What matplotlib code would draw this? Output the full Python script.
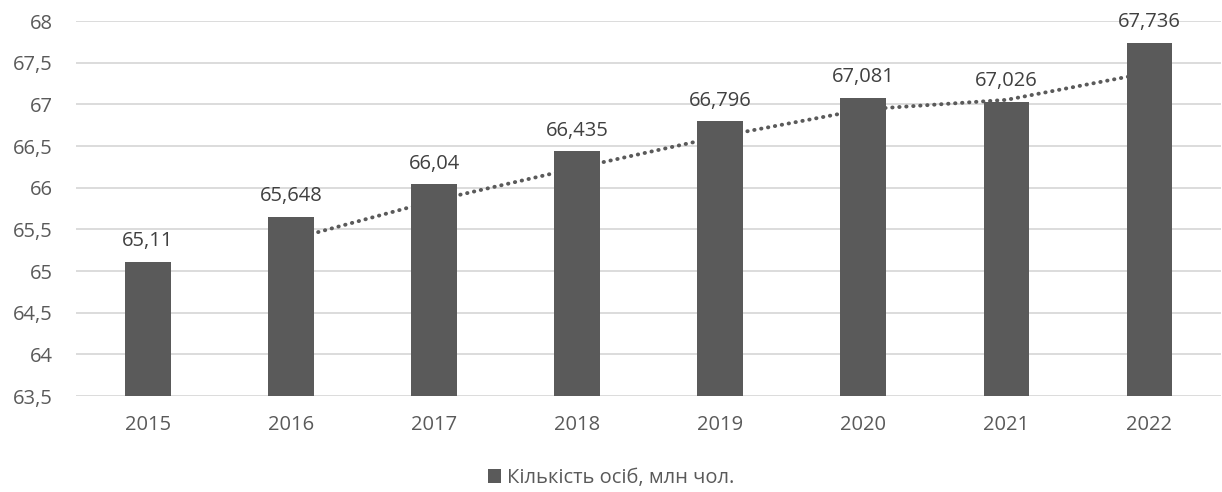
import numpy as np
import matplotlib.pyplot as plt

years = ["2015", "2016", "2017", "2018", "2019", "2020", "2021", "2022"]
persons = [65.11, 65.648, 66.04, 66.435, 66.796, 67.081, 67.026, 67.736]
value_labels = ["65,11", "65,648", "66,04", "66,435", "66,796", "67,081", "67,026", "67,736"]
# two-period moving average trend (as drawn by the spreadsheet), starts at 2016
trend = [65.379, 65.844, 66.238, 66.616, 66.939, 67.054, 67.381]
yticks = [63.5, 64, 64.5, 65, 65.5, 66, 66.5, 67, 67.5, 68]
ytick_labels = ["63,5", "64", "64,5", "65", "65,5", "66", "66,5", "67", "67,5", "68"]

plt.rcParams['font.family'] = ['Open Sans', 'DejaVu Sans']
grey = '#5a5a5a'

fig = plt.figure(figsize=(12.22, 4.92), dpi=100)
ax = fig.add_axes([0.0626, 0.1951, 0.9366, 0.7622])
x = np.arange(len(years))
ax.bar(x, np.array(persons) - 63.5, bottom=63.5, width=0.32, color=grey, zorder=2,
       label="Кількість осіб, млн чол.")
ax.plot(x[1:], trend, linestyle=(0, (0.1, 1.7)), color=grey, linewidth=2.8,
        dash_capstyle='round', zorder=3)
for xi, v, s in zip(x, persons, value_labels):
    ax.text(xi, v + 0.13, s, ha='center', va='bottom', fontsize=14.5, color='#404040')

ax.set_xlim(-0.5, len(years) - 0.5)
ax.set_ylim(63.5, 68)
ax.set_yticks(yticks)
ax.set_yticklabels(ytick_labels)
ax.set_xticks(x)
ax.set_xticklabels(years)
ax.tick_params(length=0, labelsize=14.5, labelcolor=grey)
ax.tick_params(axis='x', pad=14)
ax.tick_params(axis='y', pad=17)
ax.grid(axis='y', color='#d9d9d9', linewidth=1.3, zorder=0)
for sp in ax.spines.values():
    sp.set_visible(False)

leg = fig.legend(loc='center', bbox_to_anchor=(0.5, 0.028), frameon=False,
                 fontsize=14.5, handlelength=0.65, handleheight=0.65, handletextpad=0.3)
for t in leg.get_texts():
    t.set_color(grey)

fig.savefig("out.png", dpi=100)
